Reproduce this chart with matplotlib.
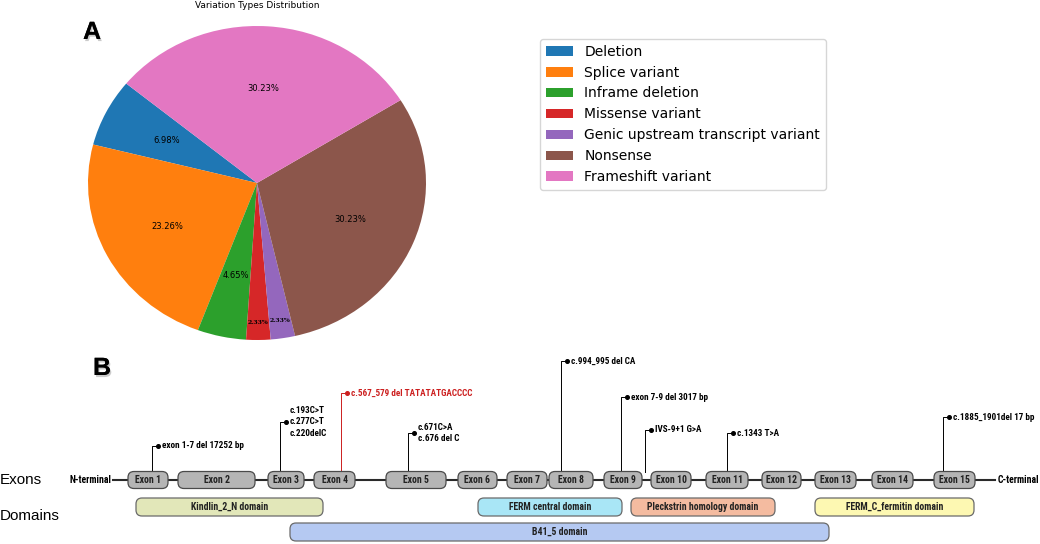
import matplotlib
matplotlib.use('Agg')
import matplotlib.pyplot as plt
import matplotlib.patheffects as pe
from matplotlib import font_manager as fm
from matplotlib.patches import FancyBboxPatch

# panel A data
variation_types = ['Deletion', 'Splice variant', 'Inframe deletion', 'Missense variant',
                   'Genic upstream transcript variant', 'Nonsense', 'Frameshift variant']
variation_counts = [3, 10, 2, 1, 1, 13, 13]

# panel B data (gene structure, diagram units = pixels)
exon_names = ['Exon %d' % i for i in range(1, 16)]
exon_start = [128, 178, 268, 314, 386, 458, 507, 549, 604, 651, 706, 762, 815, 872, 934]
exon_end = [168, 255, 304, 355, 446, 497, 547, 593, 642, 691, 748, 801, 856, 913, 975]

domain_names = ['Kindlin_2_N domain', 'FERM central domain', 'Pleckstrin homology domain',
                'FERM_C_fermitin domain', 'B41_5 domain']
domain_start = [136, 478, 631, 815, 290]
domain_end = [323, 622, 775, 974, 829]
domain_row = [0, 0, 0, 0, 1]
domain_colors = ['#e2e7b9', '#a9e6f6', '#f4bba0', '#fdf8b2', '#b5c9f2']

mutation_labels = [['exon 1-7 del 17252 bp'],
                   ['c.193C>T', 'c.277C>T', 'c.220delC'],
                   ['c.567_579 del TATATATGACCCC'],
                   ['c.671C>A', 'c.676 del C'],
                   ['c.994_995 del CA'],
                   ['exon 7-9 del 3017 bp'],
                   ['IVS-9+1 G>A'],
                   ['c.1343 T>A'],
                   ['c.1885_1901del 17 bp']]
mutation_x = [152, 280, 341, 408, 561, 621, 645, 727, 943]
mutation_top = [446, 422, 393, 433, 361, 397, 430, 433, 417]
mutation_color = ['black', 'black', '#cc1f1f', 'black', 'black',
                  'black', 'black', 'black', 'black']

names = {f.name for f in fm.fontManager.ttflist}
arial = 'Liberation Sans' if 'Liberation Sans' in names else 'DejaVu Sans'
narrow, fs = arial, 6.0
for cand in ['Liberation Sans Narrow', 'DejaVu Sans Condensed', 'Roboto Condensed',
             'Open Sans Condensed']:
    if cand in names:
        narrow, fs = cand, 7.0
        break
fs_note = fs * 0.94

fig = plt.figure(figsize=(10.4, 5.44), dpi=100)

# canvas in pixel coordinates for panel B and labels
axb = fig.add_axes([0, 0, 1, 1])
axb.set_xlim(0, 1040)
axb.set_ylim(544, 0)
axb.axis('off')

shadow = [pe.withSimplePatchShadow(offset=(1, -1.5), shadow_rgbFace='#999999', alpha=0.5), pe.Normal()]
axb.text(83, 39, 'A', fontsize=18, fontweight='bold', family=arial, path_effects=shadow)
axb.text(93, 375, 'B', fontsize=18, fontweight='bold', family=arial, path_effects=shadow)
axb.text(257, 6, 'Variation Types Distribution', fontsize=6.5, ha='center', va='center')

# backbone
ymid = 480
axb.plot([113, 995], [ymid, ymid], color='#2a2a2a', lw=1.5, zorder=1)
axb.text(0, ymid, 'Exons', fontsize=11, family=arial, va='center')
axb.text(0, 516, 'Domains', fontsize=11, family=arial, va='center')
axb.text(111, ymid, 'N-terminal', fontsize=fs, family=narrow, fontweight='bold',
         ha='right', va='center')
axb.text(998, ymid, 'C-terminal', fontsize=fs, family=narrow, fontweight='bold',
         ha='left', va='center')

for name, x0, x1 in zip(exon_names, exon_start, exon_end):
    axb.add_patch(FancyBboxPatch((x0, ymid - 8.5), x1 - x0, 17,
                                 boxstyle='round,pad=0,rounding_size=6',
                                 fc='#b5b5b5', ec='#4a4a4a', lw=0.9, zorder=2))
    axb.text((x0 + x1) / 2, ymid, name, fontsize=fs, family=narrow, fontweight='bold',
             ha='center', va='center', color='#222222', zorder=3)

for name, x0, x1, row, c in zip(domain_names, domain_start, domain_end, domain_row, domain_colors):
    y0 = 498 if row == 0 else 523
    axb.add_patch(FancyBboxPatch((x0, y0), x1 - x0, 18,
                                 boxstyle='round,pad=0,rounding_size=6',
                                 fc=c, ec='#6a6a6a', lw=0.9, zorder=2))
    axb.text((x0 + x1) / 2, y0 + 9, name, fontsize=fs, family=narrow, fontweight='bold',
             ha='center', va='center', color='#222222', zorder=3)

for labels, x, top, c in zip(mutation_labels, mutation_x, mutation_top, mutation_color):
    axb.plot([x, x, x + 6], [ymid - 8.5, top, top], color=c, lw=0.7, zorder=1)
    axb.plot([x + 6], [top], 'o', color=c, ms=2.6, zorder=3)
    n = len(labels)
    for i, lab in enumerate(labels):
        yy = top + (i - (n - 1) / 2) * 11.5
        axb.text(x + 10, yy, lab, fontsize=fs_note, family=narrow, fontweight='bold',
                 color=c, va='center', ha='left')

# panel A pie
axp = fig.add_axes([88 / 1040, 1 - 340 / 544, 338 / 1040, 314 / 544])
wedges, texts, autotexts = axp.pie(variation_counts, autopct='%1.2f%%', startangle=140.7,
                                   textprops={'fontsize': 6})
axp.set_aspect('auto')
axp.set_xlim(-1, 1)
axp.set_ylim(-1, 1)
for w in wedges:
    w.set_clip_on(False)
for t in autotexts[3:5]:
    x, y = t.get_position()
    t.set_position((x * 1.48, y * 1.48))
    t.set_fontsize(4.5)
    t.set_family('DejaVu Serif')
    t.set_fontweight('bold')

fig.legend(wedges, variation_types, loc='upper left', fontsize=10,
           bbox_to_anchor=(540 / 1040, 1 - 39 / 544), borderaxespad=0)

fig.savefig('out.png', dpi=100)
